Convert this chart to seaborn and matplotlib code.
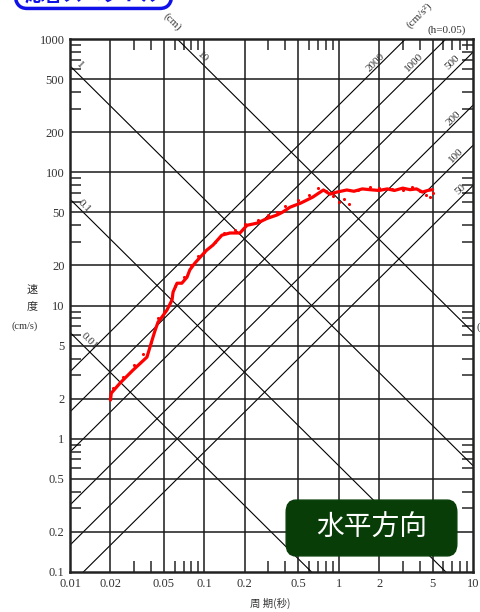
import numpy as np
import pandas as pd
import seaborn as sns
import matplotlib.pyplot as plt
from matplotlib.patches import FancyBboxPatch

# 応答スペクトル (周期 T [s], 速度 Sv [cm/s])
period = [0.02, 0.0203, 0.0236, 0.0294, 0.0374, 0.0394, 0.0415, 0.043, 0.0452, 0.0484,
          0.0527, 0.0575, 0.0585, 0.0626, 0.068, 0.0743, 0.078, 0.085, 0.093, 0.104,
          0.116, 0.135, 0.155, 0.184, 0.208, 0.247, 0.293, 0.348, 0.38, 0.435,
          0.52, 0.64, 0.77, 0.86, 0.97, 1.15, 1.3, 1.5, 1.7, 2.0, 2.3, 2.6, 3.0,
          3.4, 3.8, 4.2, 4.6, 5.0]
velocity = [1.95, 2.2, 2.62, 3.27, 4.1, 4.88, 5.8, 6.5, 7.5, 8.2,
            9.25, 11, 12.6, 14.7, 14.7, 16.3, 18.5, 20.8, 23, 26,
            28.4, 33.7, 35, 35, 40, 41.5, 45, 47.8, 50, 54.7,
            58.6, 65, 73.6, 68.5, 71, 73.6, 72, 75, 74, 73, 75, 73, 76,
            74, 75, 71, 73, 74]

# 点線の系列
period_dot = [0.021, 0.025, 0.03, 0.035, 0.04, 0.045, 0.05, 0.06, 0.07, 0.08, 0.09, 0.1,
              0.12, 0.14, 0.17, 0.2, 0.25, 0.3, 0.35, 0.4, 0.5, 0.6, 0.7, 0.8, 0.9, 1.0,
              1.1, 1.2, 1.4, 1.7, 2.0, 2.5, 3.0, 3.5, 4.0, 4.5, 4.8, 5.0]
velocity_dot = [2.4, 2.9, 3.6, 4.3, 5.3, 8, 9, 14, 16.5, 20, 23.5, 25,
                30, 35, 37, 41, 44, 48, 50, 56, 62, 68, 76, 72, 66, 60,
                63, 58, 74, 78, 76, 75, 74, 77, 72, 68, 65, 70]

# 変位線 (cm) と 加速度線 (cm/s^2)
disp_levels = [0.01, 0.1, 1, 10]
acc_levels = [50, 100, 200, 500, 1000, 2000]

x_ticks = [0.01, 0.02, 0.05, 0.1, 0.2, 0.5, 1, 2, 5, 10]
x_labels = ['0.01', '0.02', '0.05', '0.1', '0.2', '0.5', '1', '2', '5', '10']
y_ticks = [0.1, 0.2, 0.5, 1, 2, 5, 10, 20, 50, 100, 200, 500, 1000]
y_labels = ['0.1', '0.2', '0.5', '1', '2', '5', '10', '20', '50', '100', '200', '500', '1000']

sns.set_style('white')
SERIF = ['Liberation Serif', 'Noto Sans CJK JP']
CJK = ['Noto Sans CJK JP', 'DejaVu Sans']
plt.rcParams['font.family'] = SERIF

fig = plt.figure(figsize=(4.8, 6.12), dpi=100)
ax = fig.add_axes([70 / 480, 1 - 572 / 612, 403 / 480, 533 / 612])
ax.set_xscale('log')
ax.set_yscale('log')
ax.set_xlim(0.01, 10)
ax.set_ylim(0.1, 1000)

# 三軸座標の斜線
T = np.array([0.01, 10])
for d in disp_levels:
    ax.plot(T, 2 * np.pi * d / T, color='black', lw=0.8, zorder=1)
for a in acc_levels:
    ax.plot(T, a * T / (2 * np.pi), color='black', lw=0.8, zorder=1)

# 格子
for x in x_ticks[1:-1]:
    ax.axvline(x, color='#1a1a1a', lw=1.1, zorder=1)
for y in y_ticks[1:-1]:
    ax.axhline(y, color='#1a1a1a', lw=1.1, zorder=1)

df = pd.DataFrame({'T': period, 'Sv': velocity})
df_dot = pd.DataFrame({'T': period_dot, 'Sv': velocity_dot})
sns.scatterplot(data=df_dot, x='T', y='Sv', ax=ax, color='red', s=5, marker='o',
                linewidth=0, zorder=3)
sns.lineplot(data=df, x='T', y='Sv', ax=ax, color='red', lw=2.3, sort=False,
             zorder=4)

ax.set_xticks(x_ticks)
ax.set_xticklabels(x_labels)
ax.set_yticks(y_ticks)
ax.set_yticklabels(y_labels)
minor = [m * 10.0 ** e for e in (-2, -1, 0, 1, 2) for m in (3, 4, 6, 7, 8, 9)]
ax.set_xticks([v for v in minor if 0.01 < v < 10], minor=True)
ax.set_yticks([v for v in minor if 0.1 < v < 1000], minor=True)
ax.tick_params(which='major', length=0, labelsize=9, colors='#333', pad=4)
ax.tick_params(which='minor', direction='in', length=8, width=1.1,
               top=True, right=True, bottom=True, left=True)
ax.set_xlabel('')
ax.set_ylabel('')
for s in ax.spines.values():
    s.set_linewidth(1.8)
    s.set_color('#222')

# 斜線のラベル
lab = dict(fontsize=8, color='#333', ha='center', va='center')
ax.text(0.0119, 635, '1', rotation=-45, **lab)
ax.text(0.0127, 56, '0.1', rotation=-45, **lab)
ax.text(0.0138, 5.4, '0.01', rotation=-45, **lab)
ax.text(0.098, 729, '10', rotation=-45, **lab)
ax.text(0.0575, 1337, '(cm)', rotation=-45, clip_on=False, **lab)
ax.text(1.87, 670, '2000', rotation=45, **lab)
ax.text(3.64, 670, '1000', rotation=45, **lab)
ax.text(6.98, 670, '500', rotation=45, **lab)
ax.text(7.2, 255, '200', rotation=45, **lab)
ax.text(7.5, 134, '100', rotation=45, **lab)
ax.text(8.0, 74, '50', rotation=45, **lab)
ax.text(4.0, 1514, '(cm/s²)', rotation=45, clip_on=False, **lab)
ax.text(6.4, 1164, '(h=0.05)', clip_on=False, **lab)
fig.text(478 / 480, 1 - 327 / 612, '(', fontsize=8, color='#333', ha='center', va='center')

# 軸ラベル
fig.text(32 / 480, 1 - 290 / 612, '速', fontsize=8, color='#333', ha='center', va='center', family=CJK)
fig.text(32 / 480, 1 - 306 / 612, '度', fontsize=8, color='#333', ha='center', va='center', family=CJK)
fig.text(25 / 480, 1 - 326 / 612, '(cm/s)', fontsize=7.5, color='#333', ha='center', va='center')
fig.text(270 / 480, 1 - 603 / 612, '周 期(秒)', fontsize=7.5, color='#333', ha='center', va='center', family=CJK)

# 右下の枠
green = FancyBboxPatch((290 / 480, 1 - 551 / 612), 163 / 480, 46 / 612,
                       boxstyle='round,pad=0.008,rounding_size=0.02',
                       transform=fig.transFigure, facecolor='#083d08', edgecolor='#083d08',
                       clip_on=False)
fig.patches.append(green)
fig.text(372 / 480, 1 - 528 / 612, '水平方向', fontsize=20, color='white', ha='center', va='center',
         family=CJK)

# 左上の枠 (上端で切れている)
blue = FancyBboxPatch((17 / 480, 1 - 6 / 612), 153 / 480, 40 / 612,
                      boxstyle='round,pad=0.004,rounding_size=0.025',
                      transform=fig.transFigure, facecolor='white', edgecolor='#1010e8',
                      lw=2.5, clip_on=False)
fig.patches.append(blue)
fig.text(93 / 480, 1 - 1 / 612, '応答スペクトル', fontsize=14, color='#1010e8', ha='center',
         va='baseline', family=CJK, weight='bold')

fig.savefig('out.png', dpi=100)
